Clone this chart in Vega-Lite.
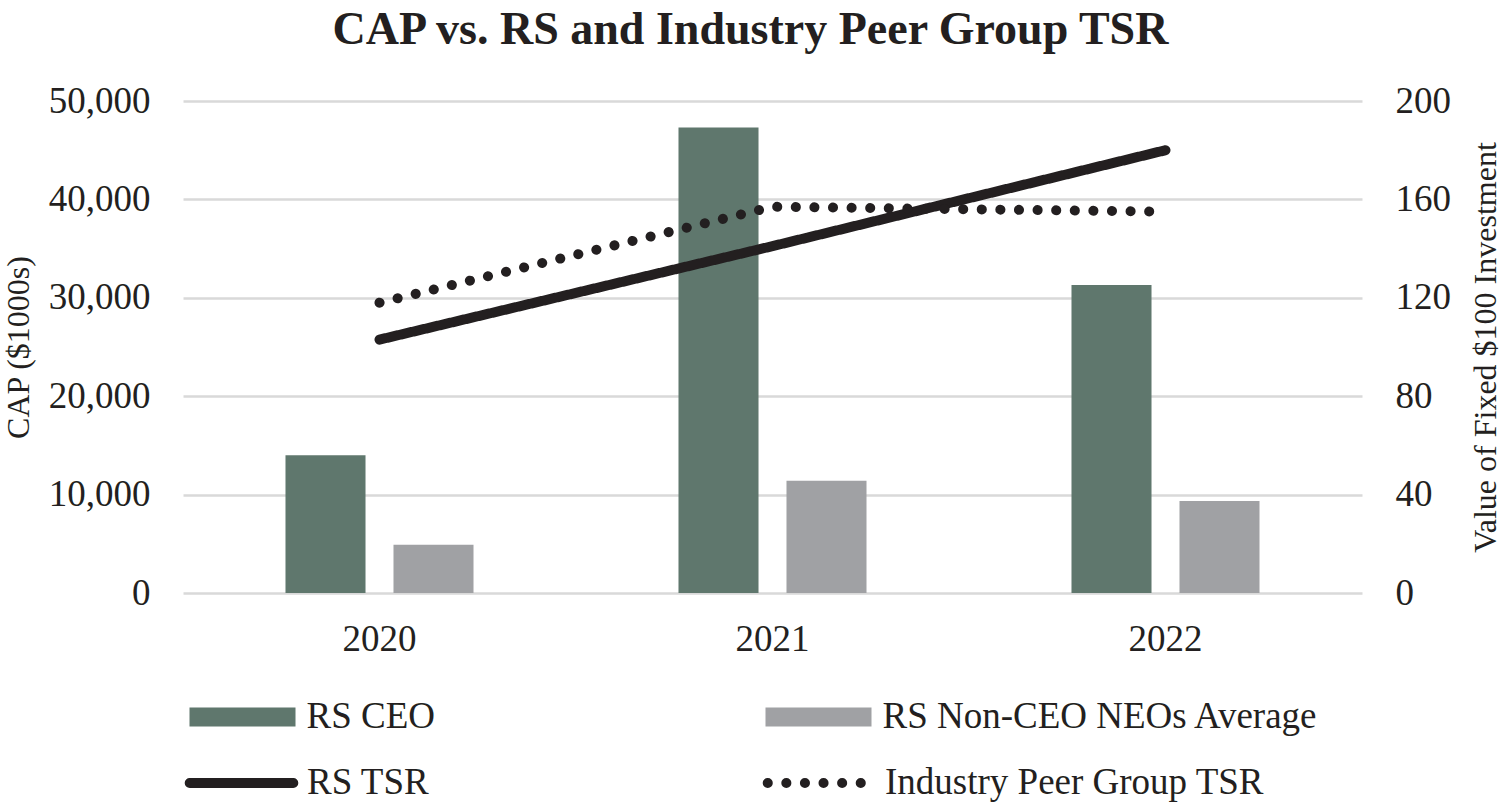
{
  "$schema": "https://vega.github.io/schema/vega-lite/v6.json",
  "width": 1179,
  "height": 492,
  "autosize": {"type": "none"},
  "padding": {"left": 183, "top": 101, "right": 143, "bottom": 214},
  "background": "white",
  "title": {
    "text": "CAP vs. RS and Industry Peer Group TSR",
    "font": "Liberation Serif",
    "fontSize": 46,
    "fontWeight": "bold",
    "color": "#231f20",
    "frame": "group",
    "anchor": "middle",
    "baseline": "alphabetic",
    "offset": -8,
    "dx": -22
  },
  "config": {
    "view": {"stroke": null},
    "font": "Liberation Serif",
    "axis": {
      "labelFont": "Liberation Serif",
      "labelFontSize": 37,
      "labelColor": "#231f20",
      "titleFont": "Liberation Serif",
      "titleFontSize": 32,
      "titleFontWeight": "normal",
      "titleColor": "#231f20",
      "domain": false,
      "ticks": false,
      "gridColor": "#d9d9d9",
      "gridWidth": 2.5
    },
    "legend": {
      "labelFont": "Liberation Serif",
      "labelFontSize": 37,
      "labelColor": "#231f20",
      "labelLimit": 700,
      "padding": 0
    }
  },
  "data": {
    "values": [
      {"year": "2020", "series": "RS CEO", "kind": "bar", "value": 14000},
      {"year": "2020", "series": "RS Non-CEO NEOs Average", "kind": "bar", "value": 4900},
      {"year": "2021", "series": "RS CEO", "kind": "bar", "value": 47300},
      {"year": "2021", "series": "RS Non-CEO NEOs Average", "kind": "bar", "value": 11400},
      {"year": "2022", "series": "RS CEO", "kind": "bar", "value": 31300},
      {"year": "2022", "series": "RS Non-CEO NEOs Average", "kind": "bar", "value": 9350},
      {"year": "2020", "series": "RS TSR", "kind": "line", "value": 103},
      {"year": "2021", "series": "RS TSR", "kind": "line", "value": 141},
      {"year": "2022", "series": "RS TSR", "kind": "line", "value": 180},
      {"year": "2020", "series": "Industry Peer Group TSR", "kind": "line", "value": 118},
      {"year": "2021", "series": "Industry Peer Group TSR", "kind": "line", "value": 157},
      {"year": "2022", "series": "Industry Peer Group TSR", "kind": "line", "value": 155}
    ]
  },
  "encoding": {
    "x": {
      "field": "year",
      "type": "nominal",
      "title": null,
      "scale": {"paddingInner": 0, "paddingOuter": 0},
      "axis": {"labelAngle": 0, "labelPadding": 28, "grid": false}
    }
  },
  "layer": [
    {
      "transform": [{"filter": "datum.kind == 'bar'"}],
      "mark": {"type": "bar"},
      "encoding": {
        "xOffset": {
          "field": "series",
          "type": "nominal",
          "scale": {"domain": ["RS CEO", "RS Non-CEO NEOs Average"], "paddingInner": 0.259, "paddingOuter": 0.949}
        },
        "y": {
          "field": "value",
          "type": "quantitative",
          "scale": {"domain": [0, 50000], "nice": false},
          "axis": {
            "values": [0, 10000, 20000, 30000, 40000, 50000],
            "format": ",d",
            "labelPadding": 33,
            "title": "CAP ($1000s)",
            "titlePadding": 13,
            "grid": true
          }
        },
        "color": {
          "field": "series",
          "type": "nominal",
          "scale": {"domain": ["RS CEO", "RS Non-CEO NEOs Average"], "range": ["#5f776d", "#a0a1a4"]},
          "legend": {
            "title": null,
            "orient": "none",
            "legendX": 38.5,
            "legendY": 595,
            "columns": 2,
            "columnPadding": 329,
            "symbolType": "M-2.524,-0.452H2.524V0.452H-2.524Z",
            "symbolSize": 1764,
            "symbolStrokeWidth": 0,
            "labelOffset": 43
          }
        }
      }
    },
    {
      "transform": [{"filter": "datum.kind == 'line'"}],
      "mark": {"type": "line", "strokeWidth": 10, "strokeCap": "round", "color": "#231f20"},
      "encoding": {
        "y": {
          "field": "value",
          "type": "quantitative",
          "scale": {"domain": [0, 200], "nice": false},
          "axis": {
            "orient": "right",
            "values": [0, 40, 80, 120, 160, 200],
            "labelPadding": 33,
            "title": "Value of Fixed $100 Investment",
            "titleAngle": 270,
            "titleBaseline": "top",
            "titlePadding": 20,
            "grid": false
          }
        },
        "strokeDash": {
          "field": "series",
          "type": "nominal",
          "scale": {"domain": ["RS TSR", "Industry Peer Group TSR"], "range": [[1, 0], [0.1, 18.5]]},
          "legend": {
            "title": null,
            "orient": "none",
            "legendX": 32.5,
            "legendY": 656,
            "columns": 2,
            "columnPadding": 318,
            "symbolType": "M-2.467,0H2.467",
            "symbolSize": 1764,
            "symbolStrokeWidth": 10,
            "symbolStrokeColor": "#231f20",
            "labelOffset": 39.5,
            "encode": {"symbols": {"update": {"strokeCap": {"value": "round"}}}}
          }
        }
      }
    }
  ],
  "resolve": {"scale": {"y": "independent"}}
}
